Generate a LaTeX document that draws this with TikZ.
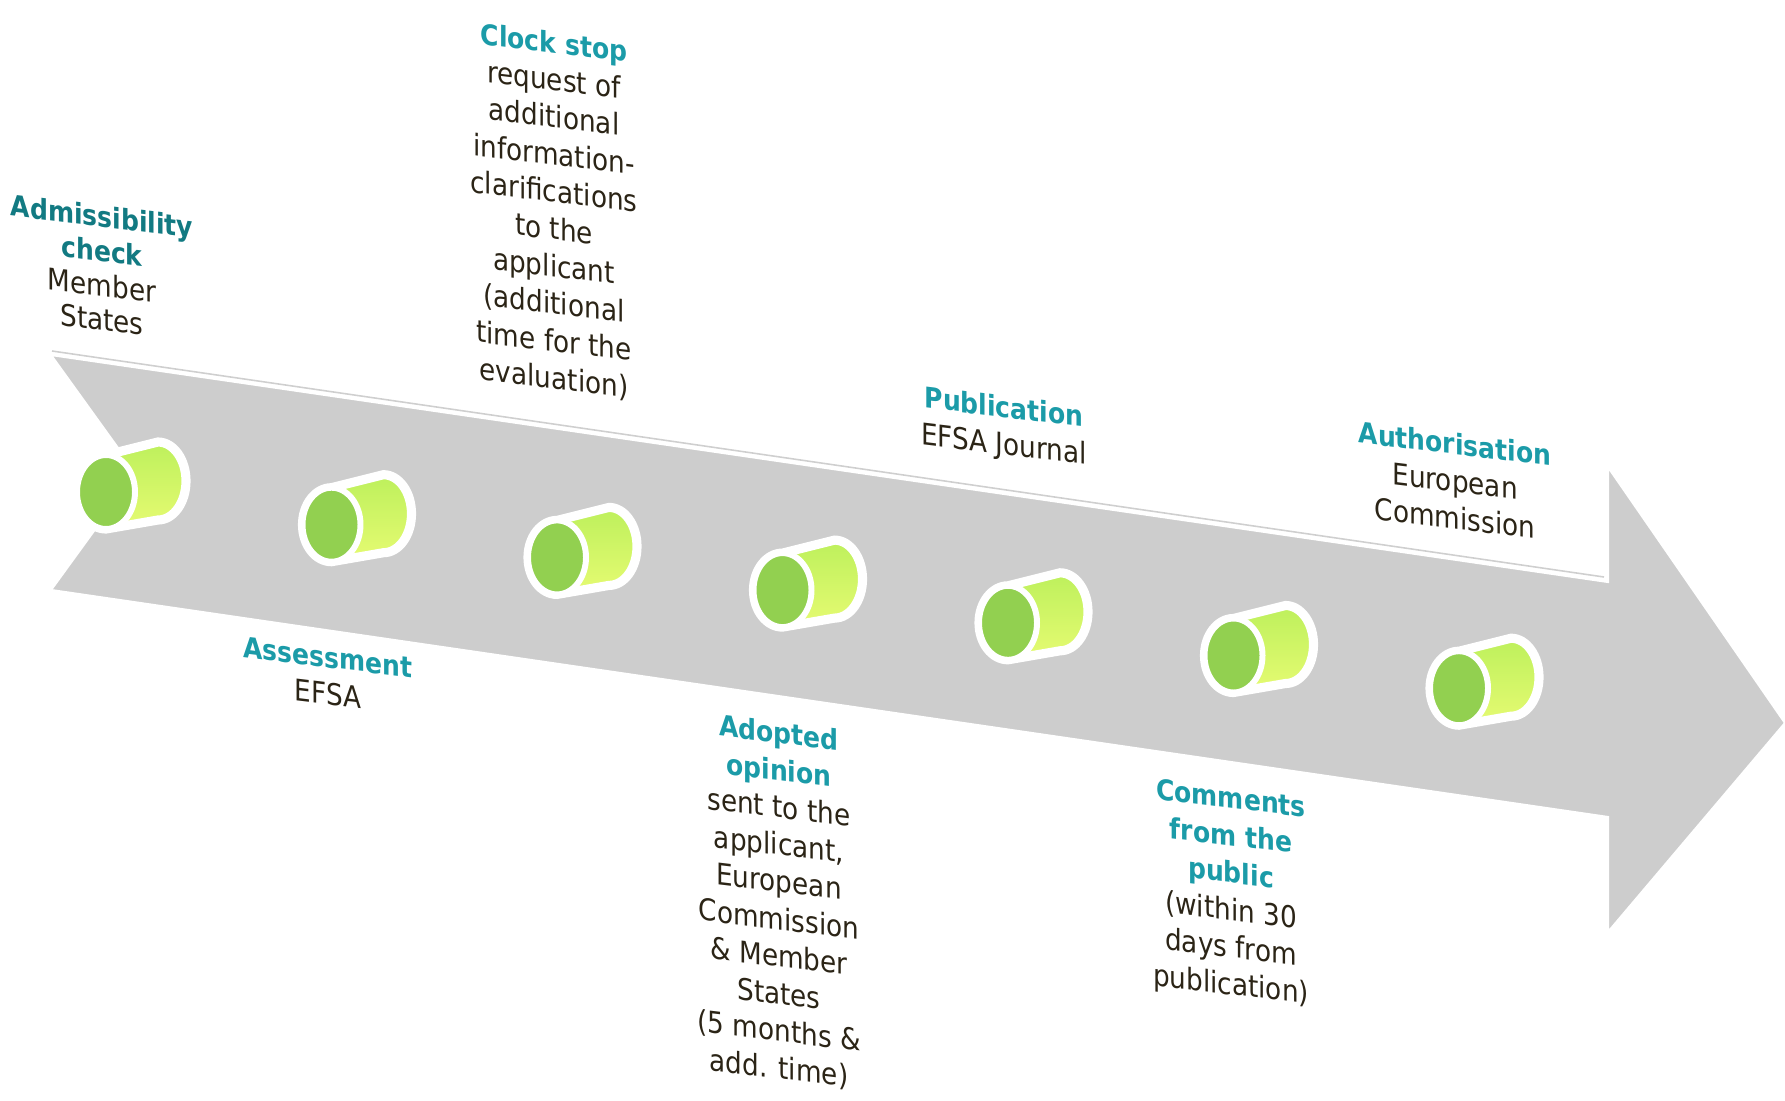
\documentclass[tikz,border=0pt]{standalone}
\usepackage{fontspec}
\setmainfont{DejaVu Sans}[FakeStretch=0.88]

\definecolor{barfill}{HTML}{CDCDCD}
\definecolor{barrim}{HTML}{CFCFCF}
\definecolor{drumface}{HTML}{92D050}
\definecolor{drumtop}{HTML}{BDF05C}
\definecolor{drummid}{HTML}{F8FF80}
\definecolor{drumbot}{HTML}{E6FB72}
\definecolor{darkteal}{HTML}{127A82}
\definecolor{stepteal}{HTML}{1B9BA8}
\definecolor{inkbrown}{HTML}{2B2416}

\newcommand{\stagehead}[2][stepteal]{{\fontsize{8.1}{10.6}\selectfont\bfseries\color{#1}#2}}

\begin{document}
\begin{tikzpicture}[x=0.01cm, y=-0.01cm,
	stage/.style={align=center, text=inkbrown, inner sep=0pt, yslant=-0.12,
		font=\fontsize{8.5}{10.6}\selectfont}]
	\useasboundingbox (0,0) rectangle (1785,1100);

	% the grey time line
	\fill[barfill, draw=white, line width=0.6pt] (51,355) -- (1608,582) -- (1608,467) -- (1785,723)
		-- (1608,932) -- (1608,817) -- (51,590) -- (136,473) -- cycle;
	\draw[barrim, line width=0.45pt] (52,351) -- (1604,577);

	% drums along the bar
	\foreach \i in {0,...,6} {
		\coordinate (drum\i) at (106+225.5*\i, 492+32.7*\i);
		\begin{scope}[shift={(drum\i)}]
			\path[draw=white, line width=2.6pt, top color=drumtop, middle color=drummid, bottom color=drumbot]
				(0,-37) -- (52,-50) arc[start angle=-90, end angle=90, x radius=28, y radius=39]
				-- (0,37) arc[start angle=90, end angle=270, x radius=29, y radius=37] -- cycle;
			\path[fill=drumface, draw=white, line width=1.7pt] (0,0) ellipse[x radius=29, y radius=37];
		\end{scope}
	}

	% stages above and below
	\node[stage, font=\fontsize{8.5}{9.8}\selectfont] (admiss) at (102,268)
		{\stagehead[darkteal]{Admissibility}\\\stagehead[darkteal]{check}\\Member\\States};
	\node[stage] (clock) at (554,212) {\stagehead{Clock stop}\\request of\\additional\\information-\\clarifications\\to the\\applicant\\(additional\\time for the\\evaluation)};
	\node[stage] (assess) at (328,676) {\stagehead{Assessment}\\EFSA};
	\node[stage] (adopted) at (779,902) {\stagehead{Adopted}\\\stagehead{opinion}\\sent to the\\applicant,\\European\\Commission\\\& Member\\States\\(5 months \&\\add. time)};
	\node[stage] (publ) at (1004,428) {\stagehead{Publication}\\EFSA Journal};
	\node[stage] (comments) at (1231,894) {\stagehead{Comments}\\\stagehead{from the}\\\stagehead{public}\\(within 30\\days from\\publication)};
	\node[stage] (author) at (1455,481) {\stagehead{Authorisation}\\European\\Commission};
\end{tikzpicture}
\end{document}
